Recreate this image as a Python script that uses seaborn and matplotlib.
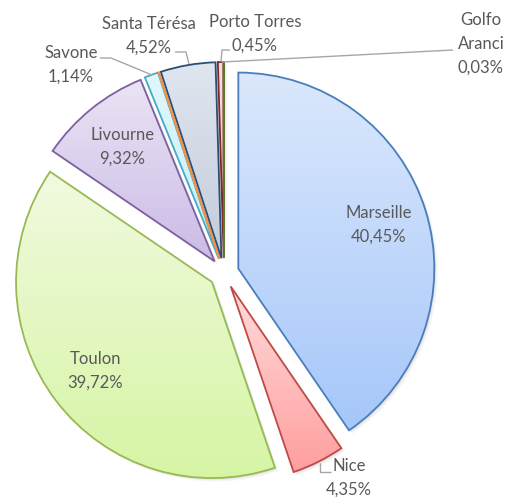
import numpy as np
import matplotlib
matplotlib.use("Agg")
import matplotlib.pyplot as plt
import seaborn as sns
from matplotlib.patches import Wedge
from matplotlib.colors import to_rgb

# ---- data ----
ports = ["Marseille", "Nice", "Toulon", "Livourne", "Savone", "",
         "Santa Térésa", "Porto Torres", "Golfo Aranci"]
shares = [40.45, 4.35, 39.72, 9.32, 1.14, 0.02, 4.52, 0.45, 0.03]
display_names = ["Marseille", "Nice", "Toulon", "Livourne", "Savone", "",
                 "Santa Térésa", "Porto Torres", "Golfo\nAranci"]

# ---- style ----
edge_colors = ["#4a7ebb", "#be4b48", "#98b954", "#7d60a0", "#46aac5",
               "#f69240", "#2c4d75", "#772c2a", "#5f7530"]
top_colors = ["#dbe8fc", "#ffdcdc", "#f1fadf", "#ebe4f5", "#e0f7fc",
              "#fde0c8", "#e0e6ef", "#f8dcdc", "#e2f0cc"]
bottom_colors = ["#a6c7fa", "#ff9e9e", "#d6f5a4", "#cbbbe6", "#c6eefa",
                 "#fbc89c", "#c3ccdb", "#f0b8b8", "#c8e0a0"]

sns.set_theme(style="white")
plt.rcParams['font.family'] = ['Lato', 'DejaVu Sans']

W, H = 522, 497
fig = plt.figure(figsize=(W / 100, H / 100), dpi=100)
ax = fig.add_axes([0, 0, 1, 1])

R = 196
C = (224, H - 273)
EXPL = 15

wedges, _ = ax.pie(shares, explode=[EXPL] * len(shares), radius=R, center=C,
                   startangle=90, counterclock=False,
                   wedgeprops=dict(linewidth=1.3))
ax.set_xlim(0, W)
ax.set_ylim(0, H)
ax.set_aspect('equal')
ax.axis('off')

txt_color = "#595959"
line_color = "#a6a6a6"

for i, w in enumerate(wedges):
    w.set_facecolor('none')
    w.set_edgecolor(edge_colors[i])
    w.set_zorder(4)
    # soft shadow
    for dx, dy, a in [(1.5, -1.5, 0.10), (2.5, -2.5, 0.07), (3.5, -3.5, 0.05)]:
        sh = Wedge((w.center[0] + dx, w.center[1] + dy), w.r, w.theta1, w.theta2,
                   facecolor="#808080", edgecolor='none', alpha=a, zorder=1)
        ax.add_patch(sh)
    # gradient fill
    ext = w.get_path().get_extents()
    c0 = np.array(to_rgb(top_colors[i]))
    c1 = np.array(to_rgb(bottom_colors[i]))
    t = np.linspace(0, 1, 256)[:, None, None]
    grad = c0[None, None, :] * (1 - t) + c1[None, None, :] * t
    im = ax.imshow(grad, extent=[ext.x0, ext.x1, ext.y0, ext.y1], origin='upper',
                   aspect='auto', interpolation='bilinear', zorder=2)
    im.set_clip_path(w)

ax.set_xlim(0, W)
ax.set_ylim(0, H)


def fmt(i):
    return f"{display_names[i]}\n{shares[i]:.2f}%".replace('.', ',')


fs = 12
ls = 1.6

# inside labels
for i in [0, 2, 3]:
    w = wedges[i]
    thm = np.deg2rad(0.5 * (w.theta1 + w.theta2))
    x = w.center[0] + 0.75 * R * np.cos(thm)
    y = w.center[1] + 0.75 * R * np.sin(thm)
    ax.text(x, y, fmt(i), ha='center', va='center', fontsize=fs,
            color=txt_color, linespacing=ls, zorder=6)


def P(x, y):
    return x, H - y


outside = {1: (349, 478), 4: (71, 65), 6: (149, 36), 7: (255, 34), 8: (481, 44)}
for i, (x, y) in outside.items():
    ax.text(*P(x, y), fmt(i), ha='center', va='center', fontsize=fs,
            color=txt_color, linespacing=ls, zorder=6)

leaders = [
    [(320, 463), (320, 472), (331, 472)],
    [(100, 58), (111, 58), (152, 75)],
    [(175, 52), (186, 52), (189, 64)],
    [(230, 50), (222, 50), (221, 62)],
    [(453, 50), (222, 62)],
]
for pts in leaders:
    xs = [p[0] for p in pts]
    ys = [H - p[1] for p in pts]
    ax.plot(xs, ys, color=line_color, lw=1.0, zorder=5, solid_capstyle='butt')

fig.savefig("out.png", dpi=100)
